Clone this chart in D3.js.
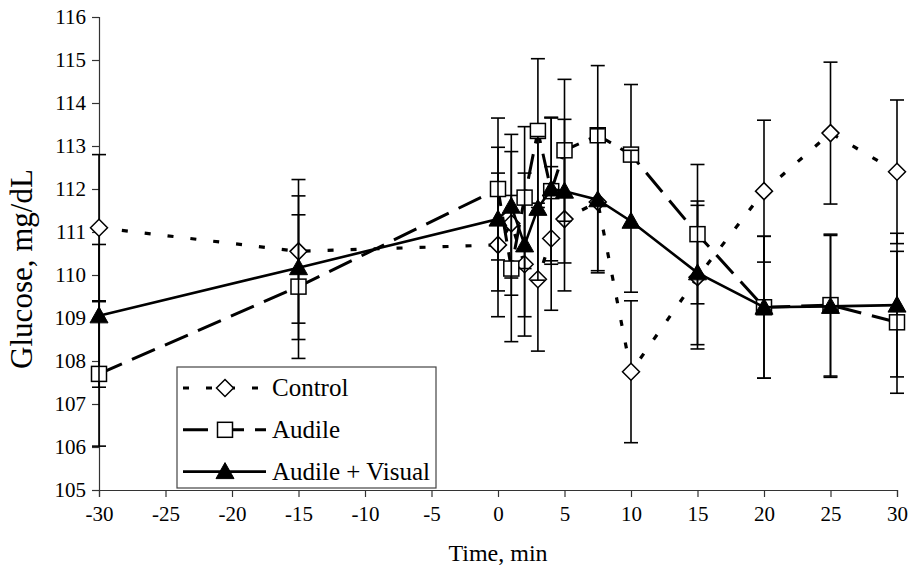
<!DOCTYPE html>
<html>
<head>
<meta charset="utf-8">
<script src="https://cdn.jsdelivr.net/npm/d3@7"></script>
<style>
  body { margin: 0; background: #fff; }
  svg text { font-family: "Liberation Serif", "Times New Roman", serif; }
</style>
</head>
<body>
<div id="chart"></div>
<script>
// time points (min)
var times = [-30, -15, 0, 1, 2, 3, 4, 5, 7.5, 10, 15, 20, 25, 30];

var control    = [111.1, 110.55, 110.7, 111.2, 110.25, 109.9, 110.85, 111.3, 111.7, 107.75, 109.95, 111.95, 113.3, 112.4];
var controlErr = [1.7, 1.67, 1.67, 1.67, 1.67, 1.67, 1.67, 1.67, 1.65, 1.65, 1.67, 1.65, 1.65, 1.67];

var audile    = [107.7, 109.73, 112.0, 110.15, 111.8, 113.35, 111.95, 112.9, 113.25, 112.8, 110.95, 109.25, 109.3, 108.9];
var audileErr = [1.68, 1.67, 1.65, 1.7, 1.65, 1.68, 1.7, 1.65, 1.62, 1.63, 1.62, 1.65, 1.65, 1.65];

var audVis    = [109.05, 110.17, 111.3, 111.6, 110.7, 111.55, 112.0, 111.95, 111.75, 111.25, 110.05, 109.25, 109.27, 109.3];
var audVisErr = [1.66, 1.67, 1.67, 1.67, 1.67, 1.67, 1.67, 1.67, 1.65, 1.65, 1.67, 1.65, 1.65, 1.67];

var xTicks = [-30, -25, -20, -15, -10, -5, 0, 5, 10, 15, 20, 25, 30];
var yTicks = [105, 106, 107, 108, 109, 110, 111, 112, 113, 114, 115, 116];

var seriesNames = ["Control", "Audile", "Audile + Visual"];

var width = 914, height = 573;
var fontFam = "Liberation Serif, Times New Roman, serif";

var svg = d3.select("#chart").append("svg")
    .attr("width", width)
    .attr("height", height);

var x = d3.scaleLinear().domain([-30, 30]).range([99, 897]);
var y = d3.scaleLinear().domain([105, 116]).range([490, 17]);

// plain hyphen for negatives, like the original
var plainFmt = function (d) { return String(d); };

// axes
var yAxis = svg.append("g")
    .attr("transform", "translate(" + x(-30) + ",0)")
    .call(d3.axisLeft(y).tickValues(yTicks).tickSize(7).tickPadding(6).tickFormat(plainFmt));
var xAxis = svg.append("g")
    .attr("transform", "translate(0," + y(105) + ")")
    .call(d3.axisBottom(x).tickValues(xTicks).tickSize(7).tickPadding(9).tickFormat(plainFmt));

[xAxis, yAxis].forEach(function (a) {
  a.attr("font-family", fontFam).attr("font-size", 21);
  a.select(".domain").attr("stroke", "#333").attr("stroke-width", 1.2);
  a.selectAll(".tick line").attr("stroke", "#333").attr("stroke-width", 1.2);
  a.selectAll("text")
    .attr("font-family", fontFam)
    .attr("font-size", 21)
    .attr("fill", "#000");
});

// axis titles
svg.append("text")
    .attr("x", x(0))
    .attr("y", 561)
    .attr("text-anchor", "middle")
    .attr("font-family", fontFam)
    .attr("font-size", 24)
    .text("Time, min");

svg.append("text")
    .attr("transform", "translate(32,269)rotate(-90)")
    .attr("text-anchor", "middle")
    .attr("font-family", fontFam)
    .attr("font-size", 31)
    .text("Glucose, mg/dL");

var styles = [
  { vals: control, err: controlErr, dash: "6,17", width: 3.2, marker: "diamond" },
  { vals: audile, err: audileErr, dash: "25,11", width: 3, marker: "square" },
  { vals: audVis, err: audVisErr, dash: null, width: 2.6, marker: "triangle" }
];

function drawMarker(g, kind, cx, cy) {
  if (kind === "diamond") {
    g.append("path")
      .attr("d", "M" + cx + "," + (cy - 8.5) + "L" + (cx + 8.5) + "," + cy + "L" + cx + "," + (cy + 8.5) + "L" + (cx - 8.5) + "," + cy + "Z")
      .attr("fill", "#fff").attr("stroke", "#000").attr("stroke-width", 1.5);
  } else if (kind === "square") {
    g.append("rect")
      .attr("x", cx - 7.5).attr("y", cy - 7.5)
      .attr("width", 15).attr("height", 15)
      .attr("fill", "#fff").attr("stroke", "#000").attr("stroke-width", 1.5);
  } else {
    g.append("path")
      .attr("d", "M" + cx + "," + (cy - 9) + "L" + (cx + 9) + "," + (cy + 7) + "L" + (cx - 9) + "," + (cy + 7) + "Z")
      .attr("fill", "#000").attr("stroke", "#000").attr("stroke-width", 1);
  }
}

var line = d3.line()
    .x(function (d, i) { return x(times[i]); })
    .y(function (d) { return y(d); });

styles.forEach(function (s) {
  var g = svg.append("g");

  // error bars
  s.vals.forEach(function (v, i) {
    var cx = x(times[i]);
    var hi = y(v + s.err[i]), lo = y(v - s.err[i]);
    g.append("line").attr("x1", cx).attr("x2", cx).attr("y1", hi).attr("y2", lo)
      .attr("stroke", "#000").attr("stroke-width", 1.6);
    g.append("line").attr("x1", cx - 7).attr("x2", cx + 7).attr("y1", hi).attr("y2", hi)
      .attr("stroke", "#000").attr("stroke-width", 1.6);
    g.append("line").attr("x1", cx - 7).attr("x2", cx + 7).attr("y1", lo).attr("y2", lo)
      .attr("stroke", "#000").attr("stroke-width", 1.6);
  });

  g.append("path")
    .attr("d", line(s.vals))
    .attr("fill", "none")
    .attr("stroke", "#000")
    .attr("stroke-width", s.width)
    .attr("stroke-dasharray", s.dash);

  s.vals.forEach(function (v, i) {
    drawMarker(g, s.marker, x(times[i]), y(v));
  });
});

// legend
var lg = svg.append("g");
lg.append("rect")
    .attr("x", 177).attr("y", 367)
    .attr("width", 259).attr("height", 121)
    .attr("fill", "#fff")
    .attr("stroke", "#444")
    .attr("stroke-width", 1.2);

styles.forEach(function (s, i) {
  var cy = 388 + i * 41.8;
  lg.append("line")
    .attr("x1", 183).attr("x2", 266).attr("y1", cy).attr("y2", cy)
    .attr("stroke", "#000")
    .attr("stroke-width", s.width)
    .attr("stroke-dasharray", s.dash);
  drawMarker(lg, s.marker, 225, cy);
  lg.append("text")
    .attr("x", 272).attr("y", cy + 8)
    .attr("font-family", fontFam)
    .attr("font-size", 25)
    .text(seriesNames[i]);
});
</script>
</body>
</html>
